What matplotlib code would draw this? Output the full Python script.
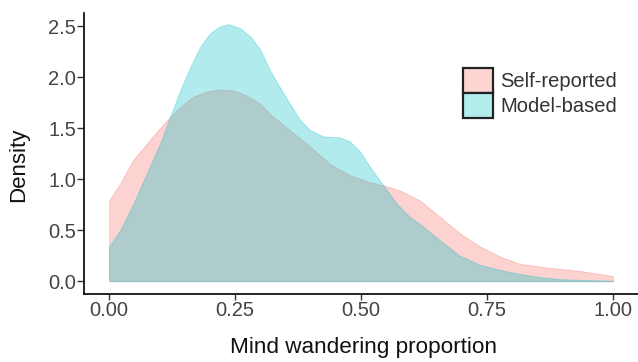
import matplotlib
matplotlib.use("Agg")
import matplotlib.pyplot as plt
from matplotlib.patches import Patch

plt.rcParams['font.family'] = ['Liberation Sans', 'DejaVu Sans']

# Density curves
x_self = [0.000, 0.022, 0.048, 0.075, 0.101, 0.121, 0.141, 0.167, 0.194, 0.220,
          0.247, 0.273, 0.300, 0.319, 0.359, 0.399, 0.438, 0.478, 0.518, 0.544,
          0.577, 0.617, 0.657, 0.696, 0.736, 0.776, 0.815, 0.875, 0.935, 1.000]
y_self = [0.79, 0.96, 1.19, 1.35, 1.50, 1.61, 1.71, 1.81, 1.86, 1.88,
          1.87, 1.82, 1.74, 1.64, 1.48, 1.32, 1.15, 1.04, 0.97, 0.94,
          0.89, 0.79, 0.63, 0.47, 0.34, 0.24, 0.17, 0.13, 0.10, 0.05]

x_model = [0.000, 0.022, 0.048, 0.075, 0.101, 0.121, 0.141, 0.161, 0.181, 0.200,
           0.220, 0.237, 0.260, 0.280, 0.300, 0.319, 0.339, 0.359, 0.379, 0.399,
           0.425, 0.458, 0.478, 0.498, 0.518, 0.544, 0.571, 0.597, 0.617, 0.657,
           0.696, 0.736, 0.776, 0.815, 0.855, 0.895, 0.948, 1.000]
y_model = [0.34, 0.50, 0.76, 1.06, 1.35, 1.61, 1.87, 2.10, 2.30, 2.43,
           2.50, 2.52, 2.48, 2.40, 2.27, 2.07, 1.90, 1.74, 1.58, 1.48,
           1.42, 1.41, 1.37, 1.27, 1.12, 0.94, 0.76, 0.63, 0.56, 0.40,
           0.25, 0.16, 0.11, 0.07, 0.04, 0.02, 0.01, 0.005]

labels = ["Self-reported", "Model-based"]
colors = ["#F8766D", "#00BFC4"]
xticks = [0.00, 0.25, 0.50, 0.75, 1.00]
xticklabels = ["0.00", "0.25", "0.50", "0.75", "1.00"]
yticks = [0.0, 0.5, 1.0, 1.5, 2.0, 2.5]

W, H = 638, 362
fig = plt.figure(figsize=(W / 100, H / 100), dpi=100)
ax = fig.add_axes([84 / W, (H - 294) / H, (W - 84) / W, (294 - 13) / H])

ax.fill_between(x_self, 0, y_self, color=colors[0], alpha=0.32, linewidth=0.7,
                edgecolor=(0.97, 0.46, 0.43, 0.35))
ax.fill_between(x_model, 0, y_model, color=colors[1], alpha=0.30, linewidth=0.7,
                edgecolor=(0.0, 0.75, 0.77, 0.35))

ax.set_xlim(-0.05, 1.05)
ax.set_ylim(-0.126, 2.63)
ax.set_xticks(xticks)
ax.set_xticklabels(xticklabels)
ax.set_yticks(yticks)
ax.set_yticklabels([f"{v:.1f}" for v in yticks])

for s in ['top', 'right']:
    ax.spines[s].set_visible(False)
for s in ['left', 'bottom']:
    ax.spines[s].set_linewidth(1.2)
    ax.spines[s].set_color('black')
ax.tick_params(axis='x', length=4, width=1.0, color='#333333',
               labelsize=14.5, labelcolor='#444444', pad=1)
ax.tick_params(axis='y', length=5, width=1.0, color='#333333',
               labelsize=14.5, labelcolor='#444444', pad=0.5)

fig.text(363 / W, (H - 353) / H, "Mind wandering proportion", fontsize=16.2,
         color='#111111', ha='center', va='baseline')
fig.text(19 / W, (H - 165) / H, "Density", fontsize=16, color='#111111',
         ha='center', va='center', rotation=90)

handles = [Patch(facecolor=(0.988, 0.835, 0.827), edgecolor='#222222', linewidth=1.6),
           Patch(facecolor=(0.702, 0.925, 0.929), edgecolor='#222222', linewidth=1.6)]
leg = fig.legend(handles, labels, loc='upper left',
                 bbox_to_anchor=(463 / W, 1 - 68 / H), frameon=False,
                 fontsize=14.5, handlelength=1.49, handleheight=1.52,
                 labelspacing=0.0, handletextpad=0.35, borderpad=0, borderaxespad=0)
for t in leg.get_texts():
    t.set_color('#333333')

fig.savefig("out.png", dpi=100)
